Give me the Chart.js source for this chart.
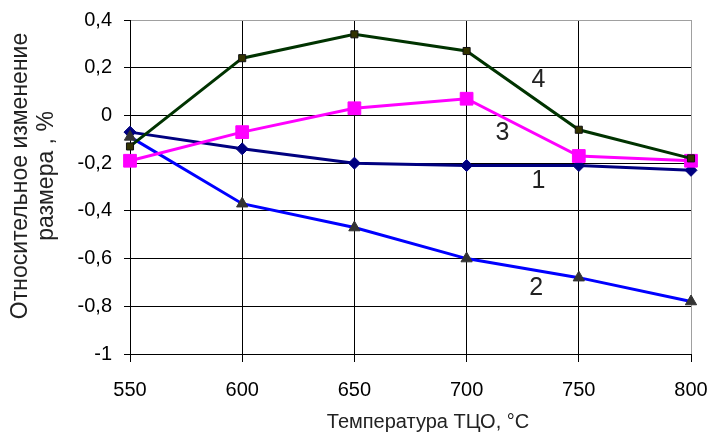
<!DOCTYPE html>
<html>
<head>
<meta charset="utf-8">
<script src="https://cdn.jsdelivr.net/npm/chart.js@4.4.1/dist/chart.umd.min.js"></script>
<style>
  html, body { margin: 0; padding: 0; background: #fff; }
  canvas { display: block; }
</style>
</head>
<body>
<canvas id="sizeChart" width="712" height="436"></canvas>
<script>
// --- Data ---
const temperatures = [550, 600, 650, 700, 750, 800];
const series1 = [-0.07, -0.14, -0.20, -0.21, -0.21, -0.23];
const series2 = [-0.09, -0.37, -0.47, -0.60, -0.68, -0.78];
const series3 = [-0.19, -0.07, 0.03, 0.07, -0.17, -0.19];
const series4 = [-0.13, 0.24, 0.34, 0.27, -0.06, -0.18];
const curveNames = ["1", "2", "3", "4"];
const yTitleLines = ["Относительное изменение", "размера , %"];
const xTitle = "Температура ТЦО, °С";

const FONT = "'Liberation Sans', Arial, sans-serif";

const toPoints = values => values.map((v, i) => ({ x: temperatures[i], y: v }));
const formatTick = v => String(Math.round(v * 10) / 10).replace(".", ",");

// curve numbers, anchored in data coordinates
const curveLabelAnchors = [
    { x: 732, y: -0.277 },
    { x: 731, y: -0.723 },
    { x: 716, y: -0.074 },
    { x: 732, y: 0.15 }
];

const annotationsPlugin = {
    id: "annotations",
    afterDraw(chart) {
        const { ctx, scales } = chart;
        ctx.save();
        ctx.fillStyle = "#222";
        ctx.textAlign = "center";
        ctx.textBaseline = "middle";

        // curve numbers
        ctx.font = `25px ${FONT}`;
        curveNames.forEach((name, i) => {
            const a = curveLabelAnchors[i];
            ctx.fillText(name, scales.x.getPixelForValue(a.x), scales.y.getPixelForValue(a.y));
        });

        // x title
        ctx.font = `20px ${FONT}`;
        ctx.fillText(xTitle, 428, 422);

        // y title, two rotated lines
        ctx.font = `23px ${FONT}`;
        ctx.translate(21, 176);
        ctx.rotate(-Math.PI / 2);
        ctx.fillText(yTitleLines[0], 0, 0);
        ctx.fillText(yTitleLines[1], 0, 26);
        ctx.restore();
    }
};

new Chart(document.getElementById("sizeChart"), {
    type: "line",
    data: {
        datasets: [
            {
                label: "1",
                data: toPoints(series1),
                borderColor: "#000080",
                backgroundColor: "#000080",
                borderWidth: 3,
                pointStyle: "rectRot",
                pointRadius: 6,
                pointBorderWidth: 1,
                order: 3
            },
            {
                label: "2",
                data: toPoints(series2),
                borderColor: "#0000ff",
                backgroundColor: "#333333",
                pointBorderColor: "#333333",
                borderWidth: 3,
                pointStyle: "triangle",
                pointRadius: 6.5,
                pointBorderWidth: 1,
                order: 2
            },
            {
                label: "3",
                data: toPoints(series3),
                borderColor: "#ff00ff",
                backgroundColor: "#ff00ff",
                borderWidth: 3,
                pointStyle: "rect",
                pointRadius: 9,
                pointBorderWidth: 1,
                order: 1
            },
            {
                label: "4",
                data: toPoints(series4),
                borderColor: "#003300",
                backgroundColor: "#333300",
                pointBorderColor: "#111",
                borderWidth: 3,
                pointStyle: "rect",
                pointRadius: 5,
                pointBorderWidth: 1,
                order: 0
            }
        ]
    },
    options: {
        responsive: false,
        animation: false,
        events: [],
        layout: { padding: { top: 20, right: 21, left: 0, bottom: 0 } },
        elements: { line: { tension: 0 } },
        datasets: { line: { clip: false } },
        plugins: {
            legend: { display: false },
            tooltip: { enabled: false }
        },
        scales: {
            x: {
                type: "linear",
                min: 550,
                max: 800,
                ticks: {
                    stepSize: 50,
                    color: "#000",
                    padding: 16,
                    font: { family: FONT, size: 20 }
                },
                grid: {
                    color: ctx => (ctx.tick && ctx.tick.value === 800 ? "#a0a0a0" : "#000"),
                    tickColor: "#000",
                    tickLength: 8,
                    lineWidth: 1
                },
                border: { color: "#000", width: 1 },
                afterFit(scale) {
                    scale.height = 82;
                    scale.paddingLeft = 0;
                    scale.paddingRight = 0;
                }
            },
            y: {
                min: -1,
                max: 0.4,
                ticks: {
                    stepSize: 0.2,
                    color: "#000",
                    padding: 12,
                    font: { family: FONT, size: 20 },
                    callback: v => formatTick(v)
                },
                grid: {
                    color: ctx => (ctx.tick && Math.abs(ctx.tick.value - 0.4) < 1e-6 ? "#a0a0a0" : "#000"),
                    tickColor: "#000",
                    tickLength: 6,
                    lineWidth: 1
                },
                border: { color: "#000", width: 1 },
                afterFit(scale) {
                    scale.width = 130;
                    scale.paddingTop = 0;
                    scale.paddingBottom = 0;
                }
            }
        }
    },
    plugins: [annotationsPlugin]
});
</script>
</body>
</html>
